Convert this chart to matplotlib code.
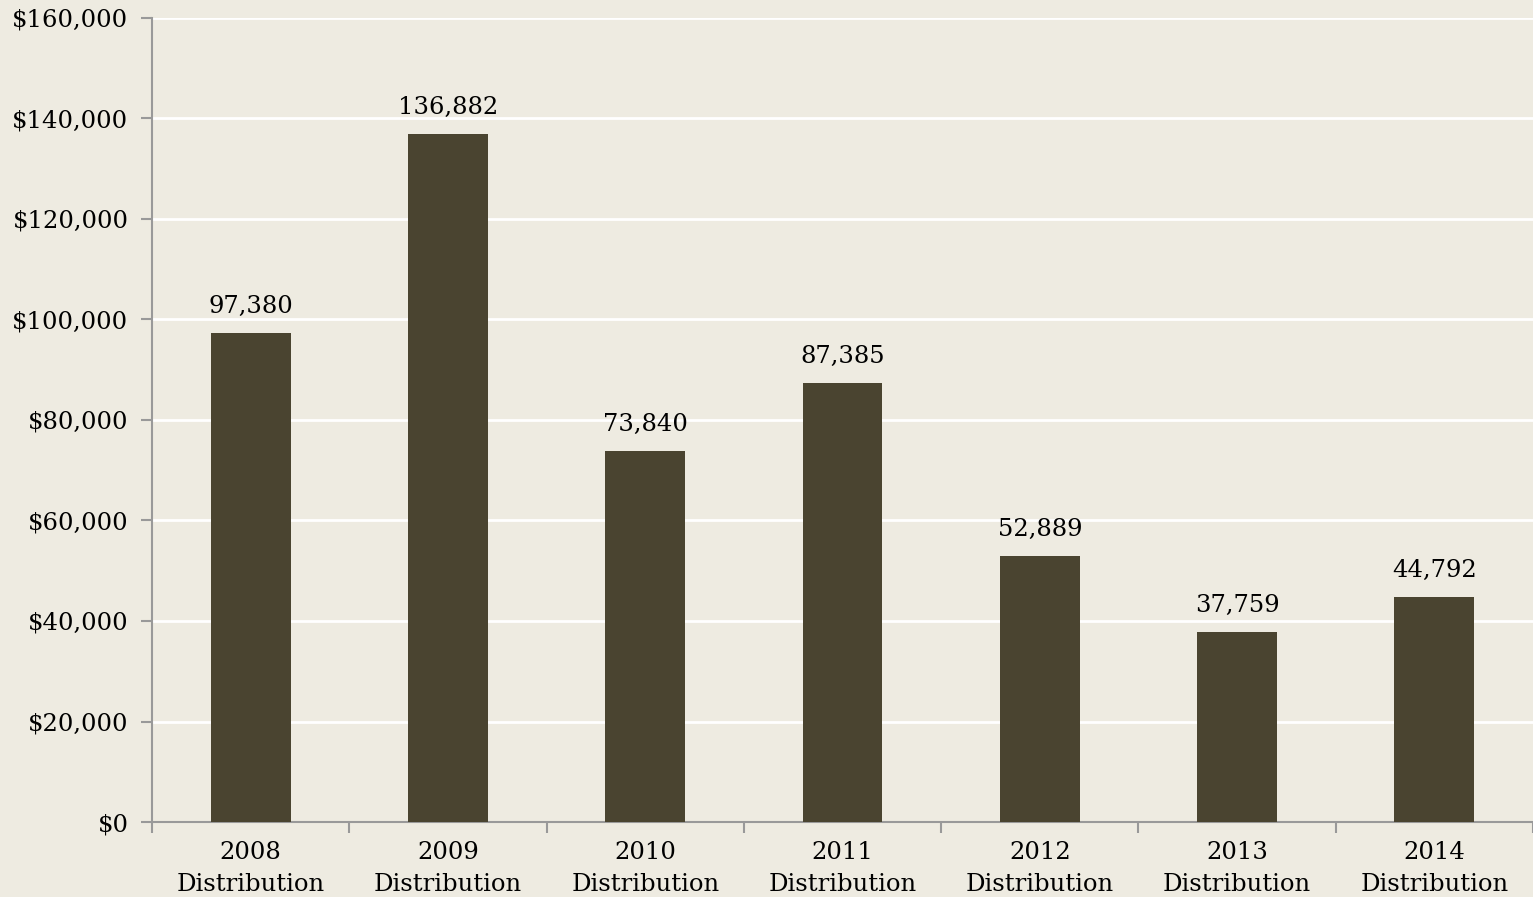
import matplotlib.pyplot as plt
import matplotlib.ticker as mticker

# du lieu
categories = ['2008\nDistribution', '2009\nDistribution', '2010\nDistribution',
              '2011\nDistribution', '2012\nDistribution', '2013\nDistribution',
              '2014\nDistribution']
values = [97380, 136882, 73840, 87385, 52889, 37759, 44792]

bg = '#EEEBE1'
bar_color = '#4A4430'
spine_color = '#999999'

plt.rcParams['font.family'] = ['DejaVu Serif']

fig = plt.figure(figsize=(15.33, 8.97), dpi=100, facecolor=bg)
ax = fig.add_axes([0.0992, 0.0836, 0.9008, 0.8964])
ax.set_facecolor(bg)

x = range(len(categories))
bars = ax.bar(x, values, width=0.405, color=bar_color, zorder=3)

for xi, v in zip(x, values):
    ax.text(xi, v + 3000, f'{v:,}', ha='center', va='bottom', fontsize=17.5, zorder=4)

ax.set_ylim(0, 160000)
ax.set_xlim(-0.5, len(categories) - 0.5)
ax.yaxis.set_major_locator(mticker.MultipleLocator(20000))
ax.yaxis.set_major_formatter(mticker.FuncFormatter(lambda v, p: f'${v:,.0f}'))
ax.grid(axis='y', color='white', linewidth=2, zorder=0)

ax.set_xticks(list(x))
ax.set_xticklabels(categories, fontsize=17.5, linespacing=1.45)
ax.set_xticks([i - 0.5 for i in range(len(categories) + 1)], minor=True)
ax.tick_params(axis='x', which='major', length=0, pad=14)
ax.tick_params(axis='x', which='minor', length=8, color=spine_color, width=1.5)
ax.tick_params(axis='y', length=8, color=spine_color, width=1.5, labelsize=17.5, pad=9)

for s in ['top', 'right']:
    ax.spines[s].set_visible(False)
for s in ['left', 'bottom']:
    ax.spines[s].set_color(spine_color)
    ax.spines[s].set_linewidth(1.5)

plt.savefig('out.png', facecolor=bg)
